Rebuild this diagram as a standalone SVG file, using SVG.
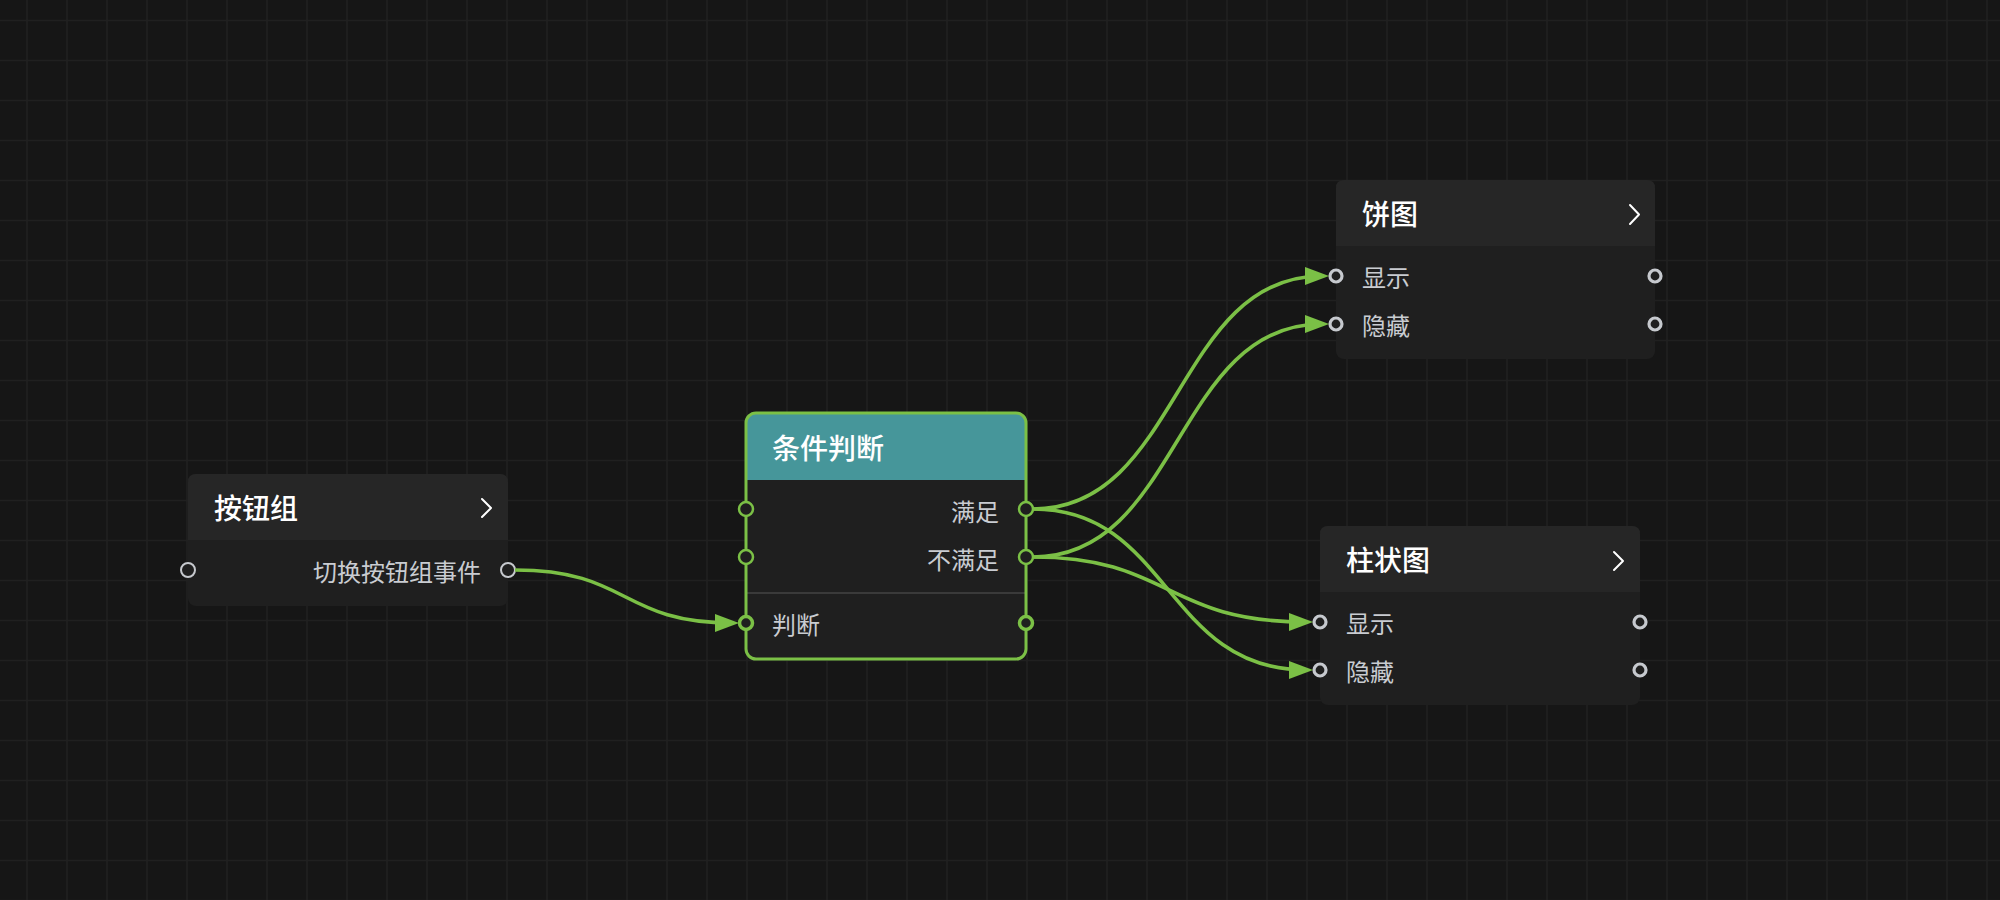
<svg xmlns="http://www.w3.org/2000/svg" width="2000" height="900" viewBox="0 0 2000 900">
  <defs>
    <pattern id="grid" patternUnits="userSpaceOnUse" x="7" y="0" width="40" height="40">
      <path d="M20 0 V40 M0 20.5 H40" stroke="#202020" stroke-width="1.6" fill="none"/>
    </pattern>
    <marker id="arrow" markerUnits="userSpaceOnUse" markerWidth="24" markerHeight="18" refX="17" refY="9" orient="auto">
      <path d="M0,0 L24,9 L0,18 Z" fill="#7bc046"/>
    </marker>
    <style>
      .title { font-family: "Noto Sans CJK SC", "Noto Sans", sans-serif; font-size: 28px; font-weight: 500; fill: #ffffff; }
      .label { font-family: "Noto Sans CJK SC", "Noto Sans", sans-serif; font-size: 24px; fill: #c9ccd1; }
      .body { fill: #1f1f1f; }
      .head { fill: #262626; }
      .chev { fill: none; stroke: #ffffff; stroke-width: 2; stroke-linecap: round; stroke-linejoin: round; }
      .gport { fill: #1f1f1f; stroke: #c6c9ce; stroke-width: 3.2; }
      .gport-thin { fill: #1f1f1f; stroke: #c6c9ce; stroke-width: 2; }
      .cport { fill: #1f1f1f; stroke: #7bc046; stroke-width: 2.5; }
      .cport-thick { fill: #1f1f1f; stroke: #7bc046; stroke-width: 3.5; }
      .wire { fill: none; stroke: #7bc046; stroke-width: 3.6; marker-end: url(#arrow); }
    </style>
  </defs>

  <rect width="2000" height="900" fill="#161616"/>
  <rect width="2000" height="900" fill="url(#grid)"/>

  <g id="node-button-group">
    <rect class="body" x="188" y="474" width="320" height="132" rx="8"/>
    <path class="head" d="M188 540 V482 Q188 474 196 474 H500 Q508 474 508 482 V540 Z"/>
    <text class="title" x="214" y="519">按钮组</text>
    <polyline class="chev" points="482,499 491,508 482,517"/>
    <circle class="gport-thin" cx="188" cy="570" r="7"/>
    <circle class="gport-thin" cx="508" cy="570" r="7"/>
    <text class="label" x="481" y="581" text-anchor="end">切换按钮组事件</text>
  </g>

  <g id="node-condition">
    <rect class="body" x="746" y="413" width="280" height="246" rx="10"/>
    <path d="M746 480 V423 Q746 413 756 413 H1016 Q1026 413 1026 423 V480 Z" fill="#46969a"/>
    <line x1="746" y1="593" x2="1026" y2="593" stroke="#3a3a3a" stroke-width="2"/>
    <rect x="746" y="413" width="280" height="246" rx="10" fill="none" stroke="#7bc046" stroke-width="3"/>
    <text class="title" x="772" y="459">条件判断</text>
    <circle class="cport" cx="746" cy="509" r="7"/>
    <circle class="cport" cx="746" cy="557" r="7"/>
    <circle class="cport" cx="1026" cy="509" r="7"/>
    <circle class="cport" cx="1026" cy="557" r="7"/>
    <circle class="cport-thick" cx="746" cy="623" r="6.5"/>
    <circle class="cport-thick" cx="1026" cy="623" r="6.5"/>
    <text class="label" x="999" y="521" text-anchor="end">满足</text>
    <text class="label" x="999" y="569" text-anchor="end">不满足</text>
    <text class="label" x="772" y="634">判断</text>
  </g>

  <g id="node-pie">
    <rect class="body" x="1336" y="180" width="319" height="179" rx="8"/>
    <path class="head" d="M1336 246 V188 Q1336 180 1344 180 H1647 Q1655 180 1655 188 V246 Z"/>
    <text class="title" x="1362" y="225">饼图</text>
    <polyline class="chev" points="1630,205 1639,214.5 1630,224"/>
    <circle class="gport" cx="1336" cy="276" r="6"/>
    <circle class="gport" cx="1655" cy="276" r="6"/>
    <circle class="gport" cx="1336" cy="324" r="6"/>
    <circle class="gport" cx="1655" cy="324" r="6"/>
    <text class="label" x="1362" y="287">显示</text>
    <text class="label" x="1362" y="335">隐藏</text>
  </g>

  <g id="node-bar">
    <rect class="body" x="1320" y="526" width="320" height="179" rx="8"/>
    <path class="head" d="M1320 592 V534 Q1320 526 1328 526 H1632 Q1640 526 1640 534 V592 Z"/>
    <text class="title" x="1346" y="571">柱状图</text>
    <polyline class="chev" points="1614,552 1623,561 1614,570"/>
    <circle class="gport" cx="1320" cy="622" r="6"/>
    <circle class="gport" cx="1640" cy="622" r="6"/>
    <circle class="gport" cx="1320" cy="670" r="6"/>
    <circle class="gport" cx="1640" cy="670" r="6"/>
    <text class="label" x="1346" y="633">显示</text>
    <text class="label" x="1346" y="681">隐藏</text>
  </g>

  <g id="connectors">
    <path class="wire" d="M515 570 C630 570 620 623 732 623"/>
    <path class="wire" d="M1033 509 C1180 509 1175 276 1322 276"/>
    <path class="wire" d="M1033 557 C1180 557 1175 324 1322 324"/>
    <path class="wire" d="M1033 557 C1170 557 1165 622 1306 622"/>
    <path class="wire" d="M1033 509 C1170 509 1165 670 1306 670"/>
  </g>
</svg>
